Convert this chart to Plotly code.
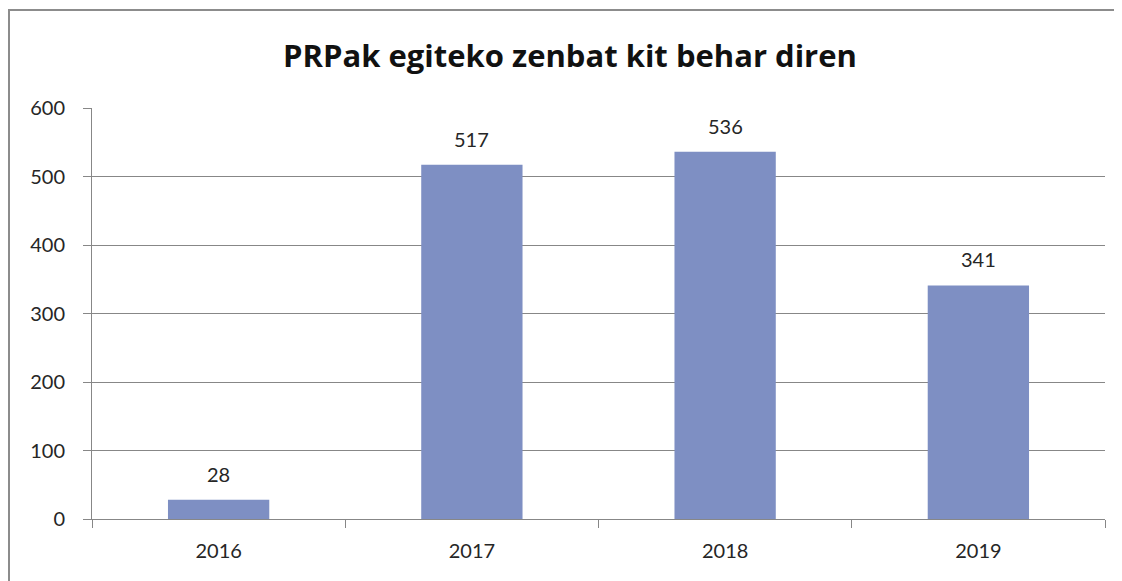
import plotly.graph_objects as go

years = ["2016", "2017", "2018", "2019"]
kits = [28, 517, 536, 341]
y_ticks = [0, 100, 200, 300, 400, 500, 600]
title_text = "PRPak egiteko zenbat kit behar diren"

bar_color = "#7E8FC3"
grid_color = "#878787"
text_color = "#262626"
font_family = "Lato"

W, H = 1122, 581

fig = go.Figure()
fig.add_trace(go.Bar(x=years, y=kits, marker=dict(color=bar_color, line=dict(width=0)),
                     width=0.4, hoverinfo="x+y"))

for i, v in enumerate(kits):
    fig.add_annotation(x=i, y=v, text=str(v), showarrow=False, yanchor="bottom",
                       yshift=12, font=dict(family=font_family, size=20, color=text_color))

fig.update_layout(
    width=W, height=H,
    margin=dict(l=84, r=W - 84 - 1013, t=100, b=H - 100 - 411),
    paper_bgcolor="white", plot_bgcolor="white",
    showlegend=False,
    bargap=0.6,
    title=dict(text="<b>" + title_text + "</b>", x=(570 - 8) / W, xanchor="center",
               y=1 - 48 / H, yanchor="middle", xref="container",
               font=dict(family="Open Sans", size=31, color="#111111")),
    xaxis=dict(type="category", range=[-0.5, 3.5], showgrid=False, showline=True,
               linecolor=grid_color, linewidth=1, automargin=False,
               ticks="outside", tickson="boundaries", ticklen=8, tickcolor=grid_color,
               tickfont=dict(family=font_family, size=20, color=text_color),
               ticklabelstandoff=14),
    yaxis=dict(range=[0, 600], tickvals=y_ticks, showgrid=True, gridcolor=grid_color, gridwidth=1,
               showline=True, linecolor=grid_color, linewidth=1, zeroline=False, automargin=False,
               ticks="outside", ticklen=8, tickcolor=grid_color,
               tickfont=dict(family=font_family, size=20, color=text_color),
               ticklabelstandoff=14),
)

pw = 1013
ph = 411
fig.add_shape(type="rect", xref="paper", yref="paper",
              x0=(9 - 92) / pw, x1=(1400 - 92) / pw,
              y0=(519 - 700) / ph, y1=(519 - 10) / ph,
              line=dict(color="#8c8c8c", width=2), fillcolor="rgba(0,0,0,0)", layer="below")

fig.write_html("out.html")
